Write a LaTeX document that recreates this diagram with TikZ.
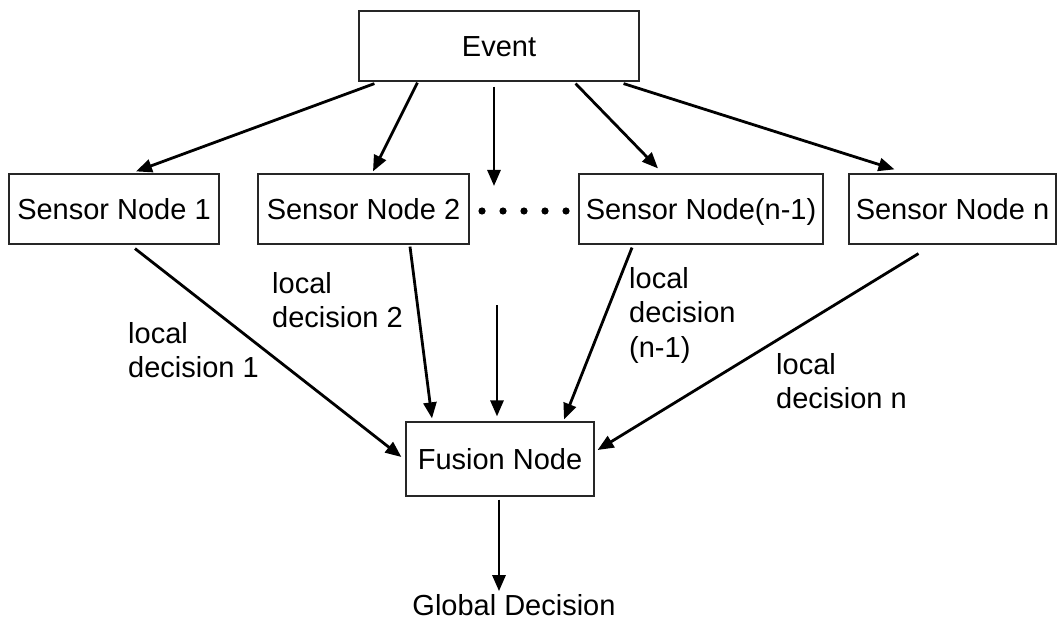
\documentclass[tikz,border=0pt]{standalone}
\usepackage{fontspec}
\setmainfont{Liberation Sans}
\usetikzlibrary{arrows.meta}
\begin{document}
\begin{tikzpicture}[x=1pt,y=-1pt,
  box/.style={draw=black!85,line width=1.2pt,inner sep=0pt,text height=20.8pt,text depth=0pt,font=\fontsize{29}{34.5}\selectfont},
  lbl/.style={anchor=west,align=left,inner sep=0pt,font=\fontsize{29}{34.5}\selectfont},
  arr/.style={line width=2.8pt,-{Triangle[length=16pt,width=13pt]}}]
\useasboundingbox (0,0) rectangle (1058,623);
% boxes
\node[box,minimum width=280,minimum height=70] (ev) at (499,46) {Event};
\node[box,minimum width=210,minimum height=70] (s1) at (114,209) {Sensor Node 1};
\node[box,minimum width=211,minimum height=70] (s2) at (363.5,209) {Sensor Node 2};
\node[box,minimum width=244,minimum height=70] (s3) at (701,209) {Sensor Node(n-1)};
\node[box,minimum width=207,minimum height=70] (s4) at (952.5,209) {Sensor Node n};
\node[box,minimum width=188,minimum height=74] (fu) at (500,459) {Fusion Node};
\node[inner sep=0pt,font=\fontsize{29}{34.5}\selectfont] (gd) at (514,605) {Global Decision};
% ellipsis between the sensor nodes
\foreach \i in {0,...,4} \fill (482+21*\i,211) circle (3.6);
% free ends of the middle connectors
\coordinate (mid) at (494,186);
\coordinate (midlow) at (497,305);
% event to sensors
\draw[arr] ([shift={(16,2)}]ev.south west) -- ([shift={(22,-2)}]s1.north);
\draw[arr] ([shift={(59,1)}]ev.south west) -- ([shift={(9.5,-2)}]s2.north);
\draw[arr] ([shift={(-5,5)}]ev.south) -- (mid);
\draw[arr] ([shift={(-64,2)}]ev.south east) -- ([shift={(-43,-5)}]s3.north);
\draw[arr] ([shift={(-16,2)}]ev.south east) -- ([shift={(-58,-4)}]s4.north);
% sensors to fusion
\draw[arr] ([shift={(21,4)}]s1.south) -- ([shift={(-4,-2)}]fu.west);
\draw[arr] ([shift={(46.5,2)}]s2.south) -- ([shift={(-68,-3)}]fu.north);
\draw[arr] (midlow) -- ([shift={(-3,-5)}]fu.north);
\draw[arr] ([shift={(-69,3)}]s3.south) -- ([shift={(64,-2)}]fu.north);
\draw[arr] ([shift={(-34,9)}]s4.south) -- ([shift={(3,-9)}]fu.east);
\draw[arr] ([shift={(-1,3)}]fu.south) -- ([shift={(-15,-3)}]gd.north);
% decision labels
\node[lbl] (l1) at (128,350) {local\\decision 1};
\node[lbl] (l2) at (272,300) {local\\decision 2};
\node[lbl] (l3) at (629,315) {local\\decision\\(n-1)};
\node[lbl] (l4) at (776,381) {local\\decision n};
\end{tikzpicture}
\end{document}
